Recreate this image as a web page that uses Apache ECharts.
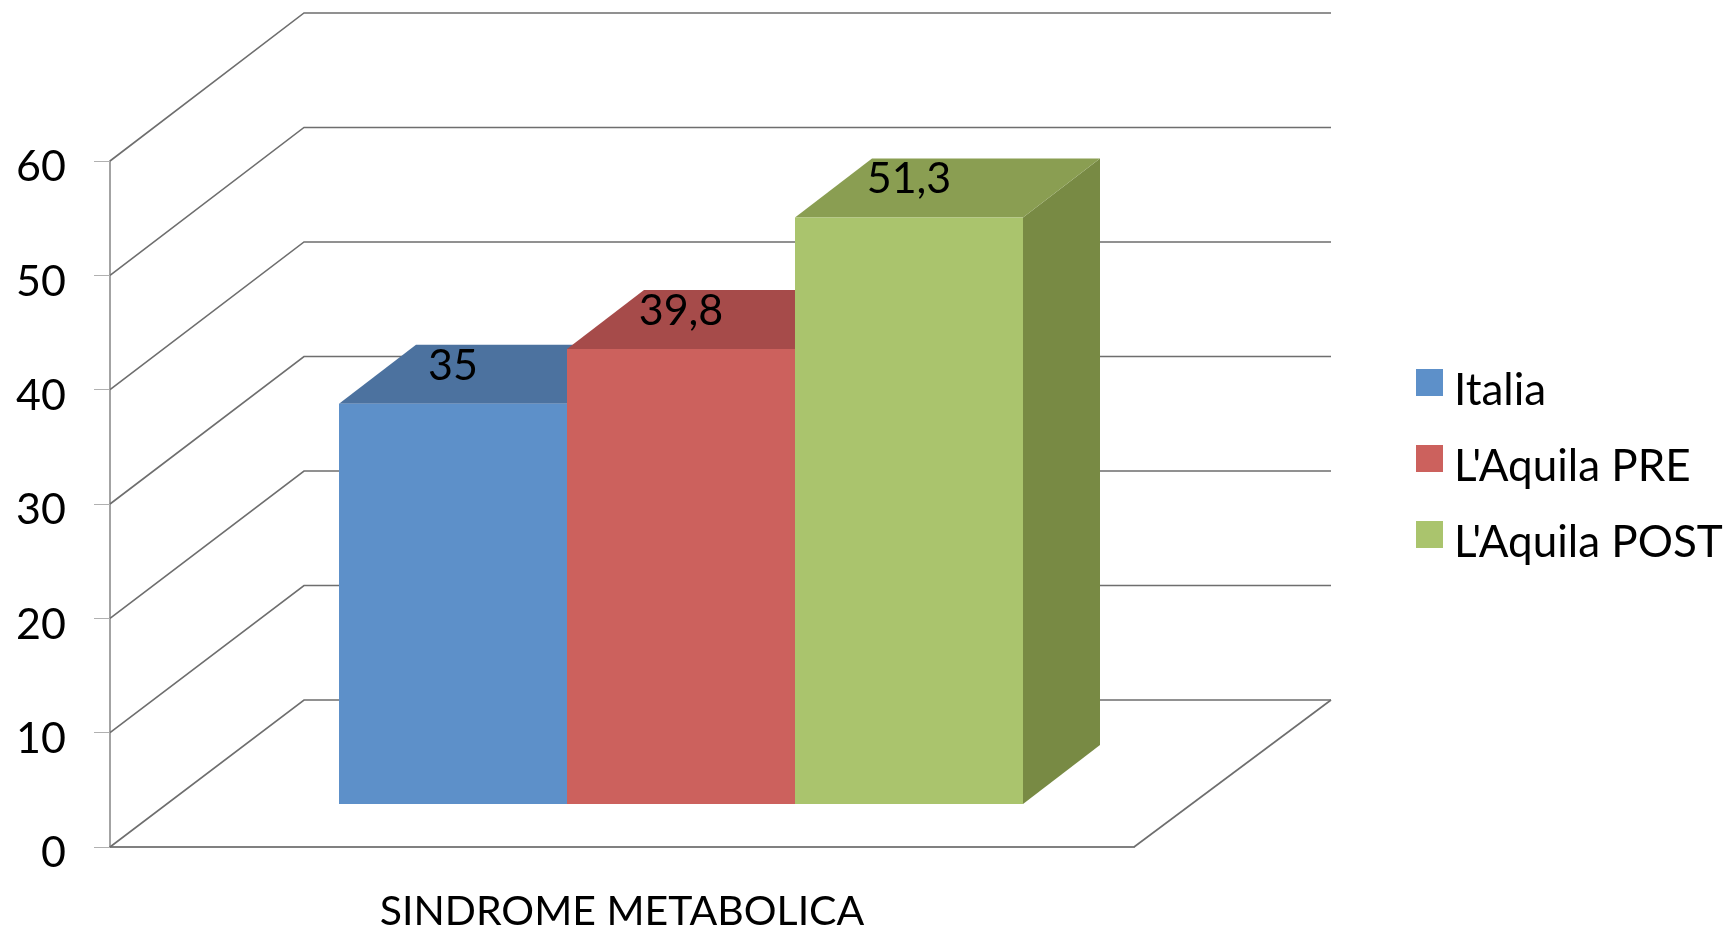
<!DOCTYPE html>
<html>
<head>
<meta charset="utf-8">
<style>html,body{margin:0;padding:0;background:#fff}#c{width:1727px;height:931px}</style>
<script src="https://cdn.jsdelivr.net/npm/echarts@6/dist/echarts.min.js"></script>
</head>
<body>
<div id="c"></div>
<script>
const categories = ['SINDROME METABOLICA'];
const seriesNames = ['Italia', "L'Aquila PRE", "L'Aquila POST"];
const italia = [35];
const aquilaPre = [39.8];
const aquilaPost = [51.3];
const yTicks = [0, 10, 20, 30, 40, 50, 60];

const FONT = 'Lato';
const WALL_DX = 194, WALL_DY_BASE = 147, WALL_DY_SLOPE = 0.017, WALL_RIGHT_EXTRA = 3;
const BAR_SHIFT_X = 59, BAR_SHIFT_Y = 43;
const BAR_W = 228, DEPTH_X = 77, DEPTH_Y = 59;

const palette = [
  { front: '#5d90c9', top: '#4c729f', side: '#41689a' },
  { front: '#cc615d', top: '#a64b4a', side: '#94403f' },
  { front: '#aac46d', top: '#8a9e52', side: '#788a44' }
];

function fmt(v) { return String(v).replace('.', ','); }

function poly(points, fill) {
  return { type: 'polygon', shape: { points: points }, style: { fill: fill } };
}
function line(points) {
  return { type: 'polyline', shape: { points: points },
    style: { fill: null, stroke: '#6e6e6e', lineWidth: 1.6 } };
}

function renderWall(params, api) {
  const v = api.value(1);
  const p = api.coord([api.value(0), v]);
  const band = api.size([1, 0])[0];
  const left = p[0] - band / 2, right = p[0] + band / 2, y = p[1];
  const dy = WALL_DY_BASE + v * WALL_DY_SLOPE;
  const children = [line([[left, y], [left + WALL_DX, y - dy], [right + WALL_DX + WALL_RIGHT_EXTRA, y - dy]])];
  if (v === 0) {
    children.push(line([[right, y], [right + WALL_DX + WALL_RIGHT_EXTRA, y - dy]]));
  }
  return { type: 'group', children: children };
}

function barRenderer(idx) {
  return function (params, api) {
    const v = api.value(1);
    const top = api.coord([api.value(0), v]);
    const base = api.coord([api.value(0), 0]);
    const c = palette[idx];
    const x0 = top[0] + BAR_SHIFT_X + (idx - 1.5) * BAR_W;
    const x1 = x0 + BAR_W;
    const yt = top[1] - BAR_SHIFT_Y;
    const yb = base[1] - BAR_SHIFT_Y;
    return {
      type: 'group',
      children: [
        poly([[x1, yt], [x1 + DEPTH_X, yt - DEPTH_Y], [x1 + DEPTH_X, yb - DEPTH_Y], [x1, yb]], c.side),
        poly([[x0, yt], [x0 + DEPTH_X, yt - DEPTH_Y], [x1 + DEPTH_X, yt - DEPTH_Y], [x1, yt]], c.top),
        { type: 'rect', shape: { x: x0, y: yt, width: BAR_W, height: yb - yt }, style: { fill: c.front } },
        { type: 'text', x: (x0 + x1) / 2, y: yt - 38,
          style: { text: fmt(v), fill: '#000', font: '43px ' + FONT, align: 'center', verticalAlign: 'middle' } }
      ]
    };
  };
}

const chart = echarts.init(document.getElementById('c'), null, { renderer: 'canvas' });
chart.setOption({
  animation: false,
  backgroundColor: '#fff',
  grid: { left: 110, top: 161, width: 1024, height: 686, containLabel: false, outerBoundsMode: 'none' },
  legend: {
    data: seriesNames.map(function (n) { return { name: n, icon: 'rect' }; }),
    orient: 'vertical',
    left: 1411,
    top: 364,
    itemWidth: 27,
    itemHeight: 27,
    itemGap: 32,
    formatter: '{a|{name}}',
    textStyle: {
      color: '#000',
      rich: { a: { fontFamily: FONT, fontSize: 44, color: '#000', padding: [17, 0, 0, 6] } }
    },
    selectedMode: false
  },
  xAxis: {
    type: 'category',
    data: categories,
    axisLine: { lineStyle: { color: '#808080', width: 2 } },
    axisTick: { length: 15, lineStyle: { color: '#a0a0a0', width: 1 } },
    axisLabel: { fontFamily: FONT, fontSize: 41, color: '#000', margin: 44 }
  },
  yAxis: {
    type: 'value',
    min: yTicks[0],
    max: yTicks[yTicks.length - 1],
    interval: 10,
    splitLine: { show: false },
    axisLine: { show: true, lineStyle: { color: '#a3a3a3', width: 2 } },
    axisTick: { show: true, length: 16, lineStyle: { color: '#b0b0b0', width: 1 } },
    axisLabel: {
      color: '#000', margin: 44,
      formatter: '{a|{value}}',
      rich: { a: { fontFamily: FONT, fontSize: 43, color: '#000', padding: [13, 0, 0, 0] } }
    }
  },
  series: [
    { type: 'custom', name: 'wall', renderItem: renderWall, silent: true, z: 1,
      encode: { x: 0, y: 1 }, data: yTicks.map(function (t) { return [0, t]; }) },
    { type: 'custom', name: seriesNames[0], renderItem: barRenderer(0), z: 2,
      itemStyle: { color: palette[0].front }, encode: { x: 0, y: 1 },
      data: italia.map(function (v, i) { return [i, v]; }) },
    { type: 'custom', name: seriesNames[1], renderItem: barRenderer(1), z: 3,
      itemStyle: { color: palette[1].front }, encode: { x: 0, y: 1 },
      data: aquilaPre.map(function (v, i) { return [i, v]; }) },
    { type: 'custom', name: seriesNames[2], renderItem: barRenderer(2), z: 4,
      itemStyle: { color: palette[2].front }, encode: { x: 0, y: 1 },
      data: aquilaPost.map(function (v, i) { return [i, v]; }) }
  ]
});
</script>
</body>
</html>
